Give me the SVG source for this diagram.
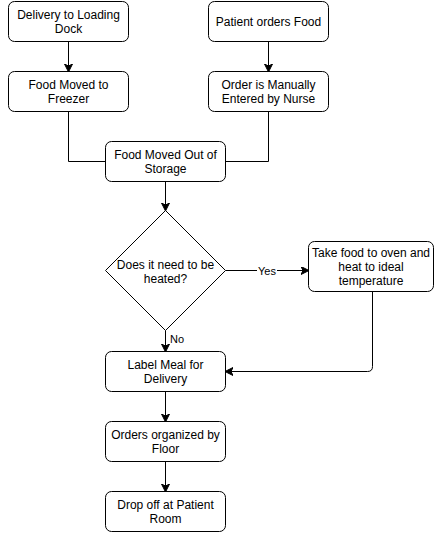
<svg xmlns="http://www.w3.org/2000/svg" width="447" height="541" viewBox="0 0 447 541">
<defs>
<style>
.n rect,.n path{fill:#fff;stroke:#000;stroke-width:1}
.n text{font-family:"Liberation Sans",Arial,sans-serif;font-size:12px;fill:#000;text-anchor:middle}
.c path{fill:none;stroke:#000;stroke-width:1}
.lbl{font-family:"Liberation Sans",Arial,sans-serif;font-size:11px;fill:#000;text-anchor:middle}
</style>
<marker id="a" markerWidth="10" markerHeight="10" refX="7" refY="4" orient="auto" markerUnits="userSpaceOnUse">
<path d="M0,0 L8,4 L0,8 L2,4 Z" fill="#000" stroke="#000" stroke-width="1"/>
</marker>
</defs>
<rect width="447" height="541" fill="#fff"/>
<g class="c" id="connectors">
<path d="M68.5,41.5 V71" marker-end="url(#a)"/>
<path d="M268.5,41.5 V71" marker-end="url(#a)"/>
<path d="M68.5,111.5 V161.5 H105.5"/>
<path d="M268.5,111.5 V161.5 H225.5"/>
<path d="M165.5,181.5 V210" marker-end="url(#a)"/>
<path d="M225.5,270.5 H308" marker-end="url(#a)"/>
<path d="M165.5,330.5 V351" marker-end="url(#a)"/>
<path d="M372.5,291.5 V366.5 Q372.5,371.5 367.5,371.5 H226" marker-end="url(#a)"/>
<path d="M165.5,391.5 V421" marker-end="url(#a)"/>
<path d="M165.5,461.5 V491" marker-end="url(#a)"/>
<rect x="257" y="264" width="20" height="13" fill="#fff" stroke="none"/>
<text class="lbl" x="267" y="274.5">Yes</text>
<text class="lbl" x="177" y="343" text-anchor="middle">No</text>
</g>
<g class="n" id="delivery">
<rect x="8.5" y="1.5" width="120" height="40" rx="6"/>
<text x="68.5" y="19">Delivery to Loading</text>
<text x="68.5" y="33">Dock</text>
</g>
<g class="n" id="patient">
<rect x="208.5" y="1.5" width="120" height="40" rx="6"/>
<text x="268.5" y="26">Patient orders Food</text>
</g>
<g class="n" id="freezer">
<rect x="8.5" y="71.5" width="120" height="40" rx="6"/>
<text x="68.5" y="89">Food Moved to</text>
<text x="68.5" y="103">Freezer</text>
</g>
<g class="n" id="order">
<rect x="208.5" y="71.5" width="120" height="40" rx="6"/>
<text x="268.5" y="89">Order is Manually</text>
<text x="268.5" y="103">Entered by Nurse</text>
</g>
<g class="n" id="storage">
<rect x="105.5" y="141.5" width="120" height="40" rx="6"/>
<text x="165.5" y="159">Food Moved Out of</text>
<text x="165.5" y="173">Storage</text>
</g>
<g class="n" id="decision">
<path d="M165.5,210.5 L225.5,270.5 L165.5,330.5 L105.5,270.5 Z"/>
<text x="165.5" y="269">Does it need to be</text>
<text x="165.5" y="283">heated?</text>
</g>
<g class="n" id="oven">
<rect x="308.5" y="241.5" width="125" height="50" rx="6"/>
<text x="371" y="257">Take food to oven and</text>
<text x="371" y="271">heat to ideal</text>
<text x="371" y="285">temperature</text>
</g>
<g class="n" id="label">
<rect x="105.5" y="351.5" width="120" height="40" rx="6"/>
<text x="165.5" y="369">Label Meal for</text>
<text x="165.5" y="383">Delivery</text>
</g>
<g class="n" id="organize">
<rect x="105.5" y="421.5" width="120" height="40" rx="6"/>
<text x="165.5" y="439">Orders organized by</text>
<text x="165.5" y="453">Floor</text>
</g>
<g class="n" id="drop">
<rect x="105.5" y="491.5" width="120" height="40" rx="6"/>
<text x="165.5" y="509">Drop off at Patient</text>
<text x="165.5" y="523">Room</text>
</g>
</svg>
